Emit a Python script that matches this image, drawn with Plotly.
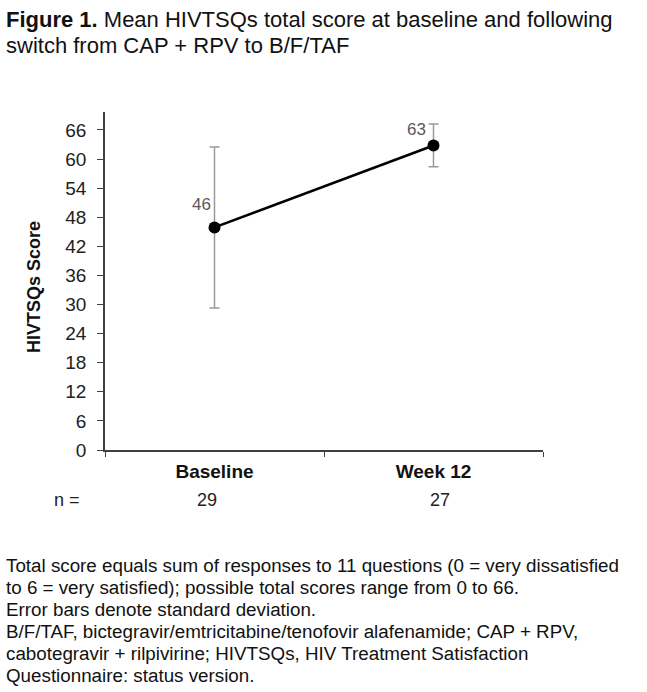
import plotly.graph_objects as go

# ---- data ----
categories = ["Baseline", "Week 12"]
mean_score = [45.9, 62.8]
sd_score = [16.6, 4.4]
value_labels = ["46", "63"]
n_labels = ["29", "27"]
y_ticks = [0, 6, 12, 18, 24, 30, 36, 42, 48, 54, 60, 66]

title_lines = [
    "<b>Figure 1.</b> Mean HIVTSQs total score at baseline and following",
    "switch from CAP + RPV to B/F/TAF",
]
footnote_lines = [
    "Total score equals sum of responses to 11 questions (0 = very dissatisfied",
    "to 6 = very satisfied); possible total scores range from 0 to 66.",
    "Error bars denote standard deviation.",
    "B/F/TAF, bictegravir/emtricitabine/tenofovir alafenamide; CAP + RPV,",
    "cabotegravir + rilpivirine; HIVTSQs, HIV Treatment Satisfaction",
    "Questionnaire: status version.",
]

FONT = "Liberation Sans, Arial, sans-serif"
W, H = 647, 692
L, R, T, B = 105, 104, 112, 242
PW, PH = W - L - R, H - T - B


def px(xp):
    return (xp - L) / PW


def py(yp):
    return (H - B - yp) / PH


fig = go.Figure()
fig.add_trace(go.Scatter(
    x=categories, y=mean_score, mode="lines+markers",
    line=dict(color="black", width=2.5),
    marker=dict(size=12, color="black"),
    error_y=dict(type="data", array=sd_score, color="#9a9a9a", thickness=1.5, width=5),
    showlegend=False, hoverinfo="skip",
))

ann = []
# value labels
label_shift = [(-2, 11), (-6, 4)]
for c, v, t, (dx, dy) in zip(categories, mean_score, value_labels, label_shift):
    ann.append(dict(x=c, y=v, xref="x", yref="y", text=t, showarrow=False,
                    xanchor="right", yanchor="bottom", xshift=dx, yshift=dy,
                    font=dict(family=FONT, size=17, color="#595959")))
# n row
ann.append(dict(x=px(67), y=py(500), xref="paper", yref="paper", text="n =",
                showarrow=False, xanchor="center", yanchor="middle",
                font=dict(family=FONT, size=18, color="#222222")))
for c, t, dx in zip(categories, n_labels, [-8, 6]):
    ann.append(dict(x=c, y=py(500), xref="x", yref="paper", text=t, showarrow=False,
                    xanchor="center", yanchor="middle", xshift=dx,
                    font=dict(family=FONT, size=18, color="#222222")))
# y axis title
ann.append(dict(x=px(34), y=py(287), xref="paper", yref="paper", text="<b>HIVTSQs Score</b>",
                textangle=-90, showarrow=False, xanchor="center", yanchor="middle",
                font=dict(family=FONT, size=18, color="#111111")))
# title
for i, t in enumerate(title_lines):
    ann.append(dict(x=px(4), y=py(19 + 26 * i), xref="paper", yref="paper", text=t,
                    showarrow=False, xanchor="left", yanchor="middle",
                    font=dict(family=FONT, size=22, color="#111111")))
# footnotes
for i, t in enumerate(footnote_lines):
    ann.append(dict(x=px(4), y=py(565 + 22 * i), xref="paper", yref="paper", text=t,
                    showarrow=False, xanchor="left", yanchor="middle",
                    font=dict(family=FONT, size=18.8, color="#111111")))

fig.update_layout(
    width=W, height=H,
    margin=dict(l=L, r=R, t=T, b=B, pad=0),
    paper_bgcolor="white", plot_bgcolor="white",
    font=dict(family=FONT, color="#111111"),
    annotations=ann,
    xaxis=dict(type="category", range=[-0.5, 1.5], showline=True, linecolor="#404040",
               linewidth=1.5, ticks="outside", tickson="boundaries", ticklen=5,
               tickcolor="#404040", showgrid=False, zeroline=False,
               ticklabelstandoff=3,
               tickfont=dict(family=FONT, size=19, color="#111111", weight="bold")),
    yaxis=dict(range=[0, 69.7], tickvals=y_ticks, showline=True, linecolor="#404040",
               linewidth=1.5, ticks="outside", ticklen=6, tickcolor="#404040",
               showgrid=False, zeroline=False, ticklabelstandoff=7,
               tickfont=dict(family=FONT, size=19, color="#222222")),
)

fig.write_html("out.html")
